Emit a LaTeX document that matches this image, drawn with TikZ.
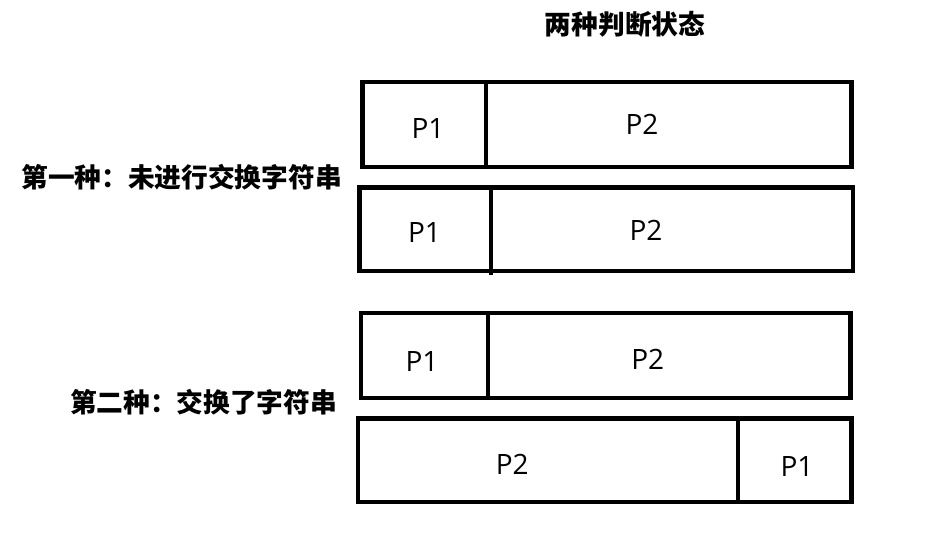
\documentclass[tikz,border=0pt]{standalone}
\usepackage{fontspec}
\newfontfamily\cjk{Noto Sans CJK SC}
\newfontfamily\latinsans{Open Sans}
\begin{document}
\begin{tikzpicture}[x=1pt,y=-1pt,
  frame/.style={draw=black,line width=4.5pt},
  cell/.style={inner sep=0pt,anchor=base,font=\latinsans\fontsize{28}{28}\selectfont},
  heading/.style={inner sep=0pt,anchor=center,font=\cjk\bfseries\fontsize{26.7}{26.7}\selectfont}]
\useasboundingbox (0,0) rectangle (944,534);

% title and row labels
\node[heading] (title) at (625,24) {两种判断状态};
\node[heading] (first) at (181.5,177.5) {第一种：未进行交换字符串};
\node[heading] (second) at (203.5,402.5) {第二种：交换了字符串};

% case one: two strings, P1 then P2
\coordinate (a1) at (362.5,82);  \coordinate (a2) at (851.5,167);
\draw[frame] (a1) rectangle (a2);
\coordinate (a3) at (486,82);    \coordinate (a4) at (486,167);
\draw[frame] (a3) -- (a4);
\node[cell] (aP1) at (428,138.3) {P1};
\node[cell] (aP2) at (642,135) {P2};

\coordinate (b1) at (359.5,187.5); \coordinate (b2) at (853,271);
\draw[frame] (b1) rectangle (b2);
\coordinate (b3) at (491,187.5);   \coordinate (b4) at (491,275);
\draw[frame] (b3) -- (b4);
\node[cell] (bP1) at (424.5,242.7) {P1};
\node[cell] (bP2) at (646,240.7) {P2};

% case two: P1P2 against the swapped P2P1
\coordinate (c1) at (361,313);   \coordinate (c2) at (850.5,398);
\draw[frame] (c1) rectangle (c2);
\coordinate (c3) at (488,313);   \coordinate (c4) at (488,398);
\draw[frame] (c3) -- (c4);
\node[cell] (cP1) at (422,371.7) {P1};
\node[cell] (cP2) at (647.7,369.3) {P2};

\coordinate (d1) at (358,418.5); \coordinate (d2) at (851.5,502);
\draw[frame] (d1) rectangle (d2);
\coordinate (d3) at (738,418.5); \coordinate (d4) at (738,502);
\draw[frame] (d3) -- (d4);
\node[cell] (dP2) at (512.3,474) {P2};
\node[cell] (dP1) at (797,476) {P1};
\end{tikzpicture}
\end{document}
